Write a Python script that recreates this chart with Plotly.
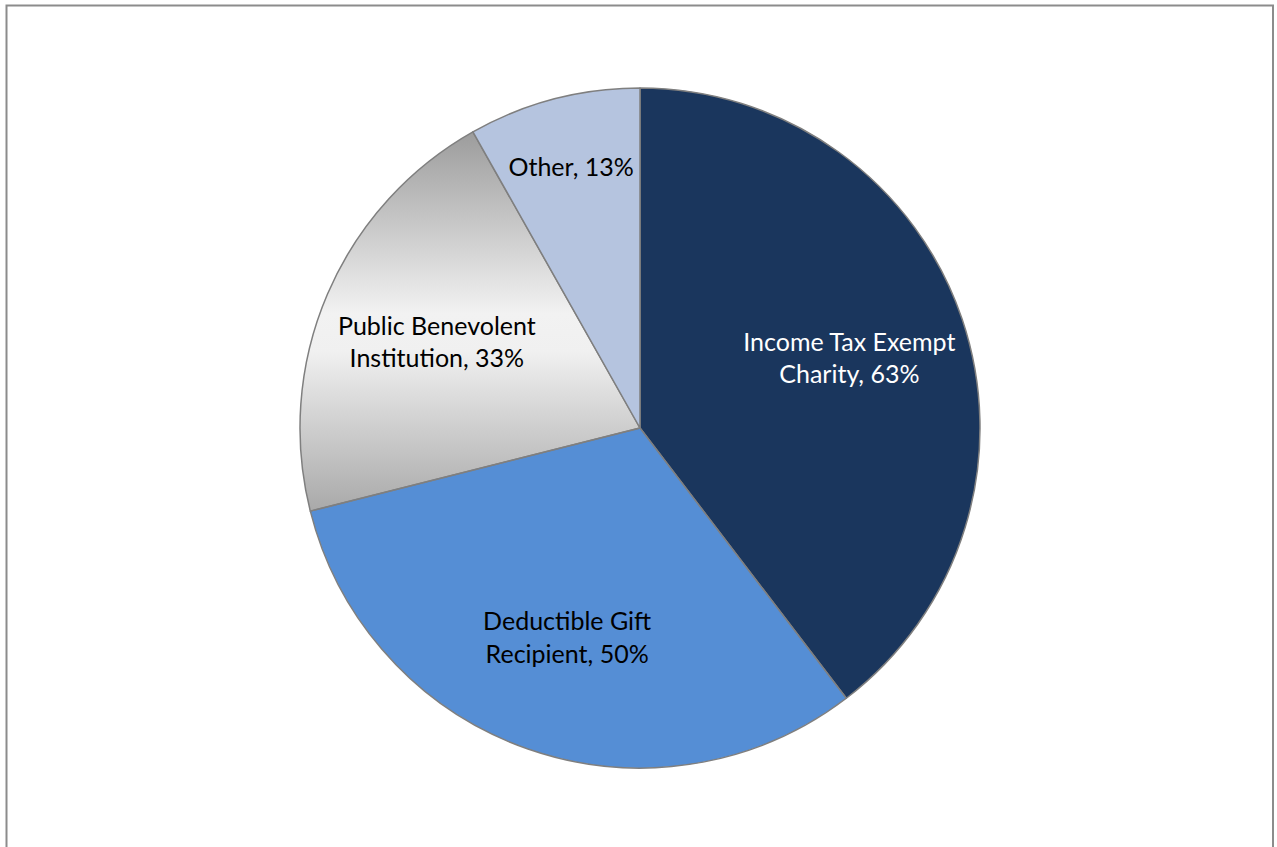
import numpy as np
import plotly.graph_objects as go

# Charity registration categories and their shares (%)
categories = ["Income Tax Exempt<br>Charity", "Deductible Gift<br>Recipient",
              "Public Benevolent<br>Institution", "Other"]
shares = [63, 50, 33, 13]
slice_colors = ["#1a365d", "#558ed5", "rgba(0,0,0,0)", "#b5c4df"]
text_colors = ["#ffffff", "#000000", "#000000", "#000000"]
gradient_slice = 2  # slice painted with a grey vertical gradient

pie_x = [300 / 1277, 980 / 1277]
pie_y = [1 - 768 / 847, 1 - 88 / 847]
border = dict(color="#7f7f7f", width=1.5)
clear = "rgba(0,0,0,0)"

fig = go.Figure()

# Gradient-filled wedge on a unit-circle axis sharing the pie's domain
total = sum(shares)
a0 = sum(shares[:gradient_slice]) / total * 2 * np.pi
a1 = sum(shares[:gradient_slice + 1]) / total * 2 * np.pi
theta = np.linspace(a0, a1, 120)
wx = np.concatenate([[0], np.sin(theta), [0]])
wy = np.concatenate([[0], np.cos(theta), [0]])
fig.add_trace(go.Scatter(
    x=wx, y=wy, mode="lines", fill="toself",
    line=dict(width=0, color="#7f7f7f"),
    fillgradient=dict(type="vertical",
                      colorscale=[[0, "#a9a9a9"], [0.42, "#f0f0f0"],
                                  [0.52, "#f2f2f2"], [1, "#9c9c9c"]]),
    hoverinfo="skip", showlegend=False,
))

# Full pie underneath (colours and borders)
fig.add_trace(go.Pie(
    labels=categories, values=shares, sort=False,
    direction="clockwise", rotation=0,
    textinfo="none",
    marker=dict(colors=slice_colors, line=border),
    domain=dict(x=pie_x, y=pie_y), showlegend=False, hoverinfo="skip",
))

# Transparent ring on top carrying the data labels further out from the centre
fig.add_trace(go.Pie(
    labels=categories, values=shares, sort=False,
    direction="clockwise", rotation=0, hole=0.3,
    texttemplate="%{label}, %{value}%",
    textposition="inside", insidetextorientation="horizontal",
    textfont=dict(family="Lato", size=25, color=text_colors),
    marker=dict(colors=[clear] * len(shares), line=dict(color=clear, width=0)),
    domain=dict(x=pie_x, y=pie_y), showlegend=False,
    hoverinfo="label+value",
))

fig.update_xaxes(domain=pie_x, range=[-1, 1], visible=False, fixedrange=True)
fig.update_yaxes(domain=pie_y, range=[-1, 1], visible=False, fixedrange=True)

# Outer chart frame
fig.add_shape(type="rect", xref="paper", yref="paper",
              x0=6.5 / 1277, x1=1273 / 1277, y0=-0.01, y1=1 - 5.5 / 847,
              line=dict(color="#8c8c8c", width=2), fillcolor="rgba(0,0,0,0)")

fig.update_layout(
    width=1277, height=847,
    margin=dict(l=0, r=0, t=0, b=0),
    paper_bgcolor="white", plot_bgcolor="rgba(0,0,0,0)",
)

fig.write_html("out.html")
